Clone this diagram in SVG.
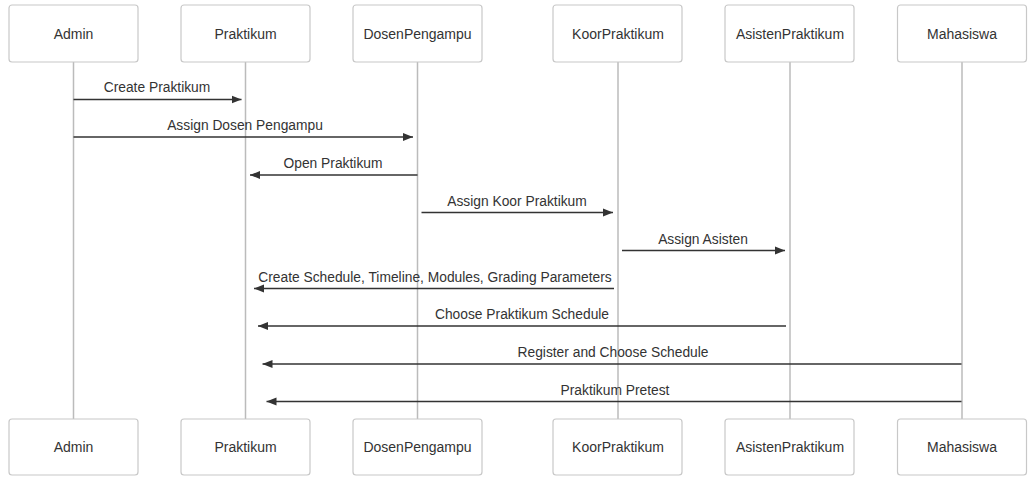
<svg xmlns="http://www.w3.org/2000/svg" width="1036" height="484" viewBox="0 0 1036 484">
<style>
.box{fill:#fff;stroke:#c8c8c8;stroke-width:1.2}
.lbl{font-family:"Liberation Sans",Arial,sans-serif;font-size:14px;fill:#333;text-anchor:middle;dominant-baseline:central}
.life{stroke:#bbb;stroke-width:1.5;fill:none}
.msg{stroke:#333;stroke-width:1.6;fill:none;marker-end:url(#ah)}
.mt{font-family:"Liberation Sans",Arial,sans-serif;font-size:13.8px;fill:#333;text-anchor:middle}
</style>
<defs>
<marker id="ah" viewBox="0 0 10 10" refX="10" refY="5" markerWidth="10" markerHeight="10" markerUnits="userSpaceOnUse" orient="auto">
<path d="M0,1 L10,5 L0,9 z" fill="#333"/>
</marker>
</defs>
<rect width="1036" height="484" fill="#fff"/>
<g id="lifelines">
<line class="life" x1="73.5" y1="62" x2="73.5" y2="419"/>
<line class="life" x1="245.5" y1="62" x2="245.5" y2="419"/>
<line class="life" x1="417.5" y1="62" x2="417.5" y2="419"/>
<line class="life" x1="618" y1="62" x2="618" y2="419"/>
<line class="life" x1="790" y1="62" x2="790" y2="419"/>
<line class="life" x1="962" y1="62" x2="962" y2="419"/>
</g>
<g id="Admin">
<rect class="box" x="9" y="5" width="129" height="57" rx="3"/><text class="lbl" x="73.5" y="33.5">Admin</text>
<rect class="box" x="9" y="419" width="129" height="56" rx="3"/><text class="lbl" x="73.5" y="447">Admin</text>
</g>
<g id="Praktikum">
<rect class="box" x="181" y="5" width="129" height="57" rx="3"/><text class="lbl" x="245.5" y="33.5">Praktikum</text>
<rect class="box" x="181" y="419" width="129" height="56" rx="3"/><text class="lbl" x="245.5" y="447">Praktikum</text>
</g>
<g id="DosenPengampu">
<rect class="box" x="353" y="5" width="129" height="57" rx="3"/><text class="lbl" x="417.5" y="33.5">DosenPengampu</text>
<rect class="box" x="353" y="419" width="129" height="56" rx="3"/><text class="lbl" x="417.5" y="447">DosenPengampu</text>
</g>
<g id="KoorPraktikum">
<rect class="box" x="553" y="5" width="129" height="57" rx="3"/><text class="lbl" x="618" y="33.5">KoorPraktikum</text>
<rect class="box" x="553" y="419" width="129" height="56" rx="3"/><text class="lbl" x="618" y="447">KoorPraktikum</text>
</g>
<g id="AsistenPraktikum">
<rect class="box" x="725" y="5" width="129" height="57" rx="3"/><text class="lbl" x="790" y="33.5">AsistenPraktikum</text>
<rect class="box" x="725" y="419" width="129" height="56" rx="3"/><text class="lbl" x="790" y="447">AsistenPraktikum</text>
</g>
<g id="Mahasiswa">
<rect class="box" x="897.5" y="5" width="129" height="57" rx="3"/><text class="lbl" x="962" y="33.5">Mahasiswa</text>
<rect class="box" x="897.5" y="419" width="129" height="56" rx="3"/><text class="lbl" x="962" y="447">Mahasiswa</text>
</g>
<g id="connectors">
<line class="msg" x1="73.5" y1="99.5" x2="241.5" y2="99.5"/>
<text class="mt" x="157" y="92">Create Praktikum</text>
<line class="msg" x1="73.5" y1="137" x2="413" y2="137"/>
<text class="mt" x="245" y="130">Assign Dosen Pengampu</text>
<line class="msg" x1="417.5" y1="175" x2="250" y2="175"/>
<text class="mt" x="333" y="168">Open Praktikum</text>
<line class="msg" x1="421.5" y1="212.5" x2="613" y2="212.5"/>
<text class="mt" x="517" y="205.5">Assign Koor Praktikum</text>
<line class="msg" x1="622" y1="250.5" x2="785" y2="250.5"/>
<text class="mt" x="703" y="243.5">Assign Asisten</text>
<line class="msg" x1="614" y1="288.5" x2="254" y2="288.5"/>
<text class="mt" x="435" y="281.5">Create Schedule, Timeline, Modules, Grading Parameters</text>
<line class="msg" x1="786" y1="326" x2="258" y2="326"/>
<text class="mt" x="522" y="319">Choose Praktikum Schedule</text>
<line class="msg" x1="961.5" y1="364" x2="262.5" y2="364"/>
<text class="mt" x="613" y="357">Register and Choose Schedule</text>
<line class="msg" x1="961.5" y1="401.5" x2="266.5" y2="401.5"/>
<text class="mt" x="615" y="394.5">Praktikum Pretest</text>
</g>
</svg>
